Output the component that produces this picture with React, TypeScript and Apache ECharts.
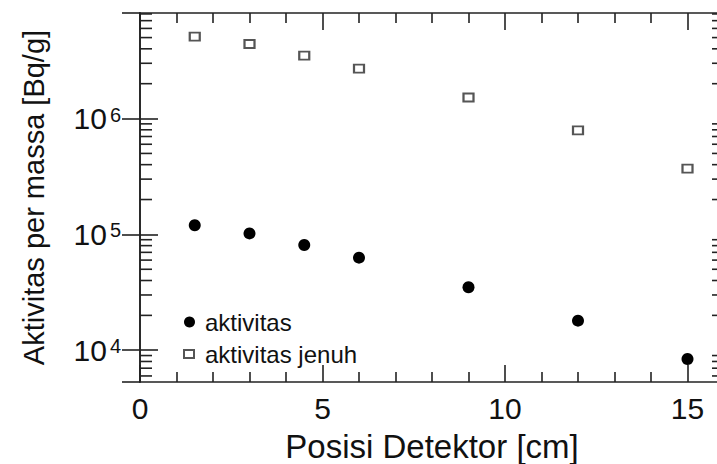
import React, { useEffect, useRef } from "react";
import * as echarts from "echarts";

// Detector positions [cm]
const positions = [1.5, 3, 4.5, 6, 9, 12, 15];
// Activity per mass [Bq/g]
const aktivitas = [1.2e5, 1.02e5, 8.1e4, 6.3e4, 3.5e4, 1.8e4, 8.4e3];
// Saturation activity per mass [Bq/g]
const aktivitasJenuh = [5.1e6, 4.4e6, 3.5e6, 2.7e6, 1.52e6, 7.9e5, 3.7e5];

const xTickLabels = ["0", "5", "10", "15"];
const yMin = 5320;
const yMax = 8.15e6;
const xMin = 0;
const xMax = 16;

const FONT = "Liberation Sans, Arial, Helvetica, sans-serif";
const AXIS_COLOR = "#222";

// minor ticks of the log axis: 2..9 x each decade inside the range
const minorTickValues: number[] = [];
for (let d = 3; d <= 6; d++) {
  for (let m = 2; m <= 9; m++) {
    const v = m * Math.pow(10, d);
    if (v > yMin && v < yMax) minorTickValues.push(v);
  }
}

const supLabel = (v: number) => {
  const e = Math.log10(v);
  const r = Math.round(e);
  if (Math.abs(e - r) > 1e-6) return "";
  return "{b|10}{s|" + r + "}";
};

export default function App() {
  const ref = useRef<HTMLDivElement>(null);

  useEffect(() => {
    if (!ref.current) return;
    const chart = echarts.init(ref.current, null, { renderer: "svg" });

    const xAxisBase = {
      type: "value" as const,
      min: xMin,
      max: xMax,
      interval: 5,
      axisLine: { show: true, lineStyle: { color: AXIS_COLOR, width: 1.6 } },
      axisTick: { show: true, inside: true, length: 17, lineStyle: { color: AXIS_COLOR, width: 1.6 } },
      minorTick: { show: true, splitNumber: 5, length: 10, lineStyle: { color: AXIS_COLOR, width: 1.6 } },
      splitLine: { show: false },
    };

    const yAxisBase = {
      type: "log" as const,
      min: yMin,
      max: yMax,
      logBase: 10,
      axisLine: { show: true, lineStyle: { color: AXIS_COLOR, width: 1.6 } },
      axisTick: { show: true, inside: true, length: 18, lineStyle: { color: AXIS_COLOR, width: 1.6 } },
      splitLine: { show: false },
    };

    chart.setOption({
      animation: false,
      backgroundColor: "#fff",
      textStyle: { fontFamily: FONT },
      grid: {
        left: 140,
        top: 13,
        width: 584,
        bottom: 82,
        containLabel: false,
        outerBoundsMode: "none",
      },
      xAxis: [
        {
          ...xAxisBase,
          position: "bottom",
          name: "Posisi Detektor [cm]",
          nameLocation: "middle",
          nameGap: 48,
          nameTextStyle: { fontSize: 33, color: "#111", fontFamily: FONT },
          axisLabel: {
            show: true,
            margin: 11,
            fontSize: 30,
            color: "#111",
            fontFamily: FONT,
            showMaxLabel: false,
            formatter: (v: number) => (xTickLabels.includes(String(v)) ? String(v) : ""),
          },
        },
        { ...xAxisBase, position: "top", axisLabel: { show: false } },
      ],
      yAxis: [
        {
          ...yAxisBase,
          position: "left",
          name: "Aktivitas per massa [Bq/g]",
          nameLocation: "middle",
          nameGap: 92,
          nameTextStyle: { fontSize: 29, color: "#111", fontFamily: FONT },
          axisLabel: {
            show: true,
            margin: 19,
            showMinLabel: false,
            showMaxLabel: false,
            formatter: supLabel,
            rich: {
              b: { fontSize: 30, lineHeight: 28, color: "#111", fontFamily: FONT },
              s: { fontSize: 20, lineHeight: 14, color: "#111", fontFamily: FONT, verticalAlign: "top", padding: [0, 0, 0, 3] },
            },
          },
        },
        { ...yAxisBase, position: "right", axisLabel: { show: false } },
      ],
      legend: [
        {
          data: [{ name: "aktivitas", icon: "circle" }],
          orient: "vertical",
          left: 184,
          top: 310,
          padding: 0,
          itemWidth: 11,
          itemHeight: 11,
          selectedMode: false,
          formatter: "{t|{name}}",
          textStyle: {
            rich: { t: { fontSize: 24, lineHeight: 24, color: "#111", fontFamily: FONT, padding: [0, 0, 0, 5] } },
          },
        },
        {
          data: [{ name: "aktivitas jenuh", icon: "rect" }],
          orient: "vertical",
          left: 183,
          top: 342,
          padding: 0,
          itemWidth: 10,
          itemHeight: 8,
          selectedMode: false,
          formatter: "{t|{name}}",
          textStyle: {
            rich: { t: { fontSize: 24, lineHeight: 24, color: "#111", fontFamily: FONT, padding: [0, 0, 0, 6] } },
          },
        },
      ],
      series: [
        {
          name: "aktivitas",
          type: "scatter",
          xAxisIndex: 0,
          yAxisIndex: 0,
          symbol: "circle",
          symbolSize: 12,
          itemStyle: { color: "#000", opacity: 1 },
          data: positions.map((x, i) => [x, aktivitas[i]]),
        },
        {
          name: "aktivitas jenuh",
          type: "scatter",
          xAxisIndex: 0,
          yAxisIndex: 0,
          symbol: "rect",
          symbolSize: [10, 8],
          itemStyle: { color: "#fff", borderColor: "#555", borderWidth: 2, opacity: 1 },
          data: positions.map((x, i) => [x, aktivitasJenuh[i]]),
        },
      ],
    });

    // logarithmic minor ticks on the left and right frame
    const xl = chart.convertToPixel({ xAxisIndex: 0 }, xMin) as number;
    const xr = chart.convertToPixel({ xAxisIndex: 0 }, xMax) as number;
    const minorLines = minorTickValues.flatMap((v) => {
      const y = chart.convertToPixel({ yAxisIndex: 0 }, v) as number;
      return [
        { type: "line", shape: { x1: xl, y1: y, x2: xl + 12, y2: y }, style: { stroke: AXIS_COLOR, lineWidth: 1.6 }, silent: true },
        { type: "line", shape: { x1: xr, y1: y, x2: xr - 12, y2: y }, style: { stroke: AXIS_COLOR, lineWidth: 1.6 }, silent: true },
      ];
    });
    chart.setOption({ graphic: minorLines });

    return () => chart.dispose();
  }, []);

  return (
    <div
      ref={ref}
      style={{ position: "fixed", left: 0, top: 0, width: 717, height: 464 }}
    />
  );
}
